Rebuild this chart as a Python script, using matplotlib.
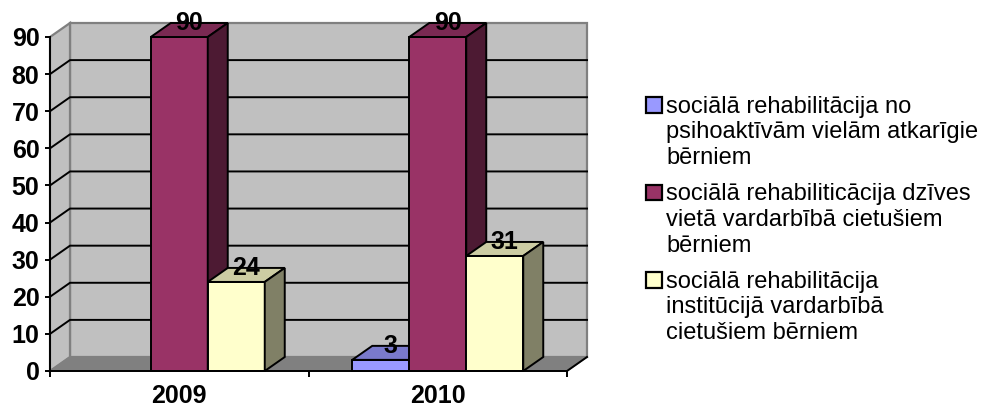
import matplotlib.pyplot as plt
from matplotlib.patches import Polygon, Rectangle
from matplotlib.colors import to_rgb

years = ['2009', '2010']
series_labels = [
    'sociālā rehabilitācija no\npsihoaktīvām vielām atkarīgie\nbērniem',
    'sociālā rehabiliticācija dzīves\nvietā vardarbībā cietušiem\nbērniem',
    'sociālā rehabilitācija\ninstitūcijā vardarbībā\ncietušiem bērniem',
]
substance_rehab = [0, 3]
home_rehab = [90, 90]
institution_rehab = [24, 31]
series_values = [substance_rehab, home_rehab, institution_rehab]
colors = ['#9999FF', '#993366', '#FFFFCC']

plt.rcParams['font.family'] = ['Liberation Sans', 'DejaVu Sans']

W, H = 986, 409
fig = plt.figure(figsize=(W / 100, H / 100), dpi=100)
ax = fig.add_axes([50 / W, 38 / H, 517 / W, 334 / H])
ax.set_xlim(-0.5, 1.5)
ax.set_ylim(0, 90)
ax.patch.set_visible(False)

# depth of the fake 3d, in data units
dx = 20 / 258.5
dy = 14 / 334 * 90
bw = 57 / 258.5
lw = 1.4


def shade(c, f):
    r, g, b = to_rgb(c)
    return (r * f, g * f, b * f)


# walls and floor
x0, x1, top = -0.5, 1.5, 90
wall = dict(fc='#C0C0C0', ec='#808080', lw=1.6, clip_on=False, zorder=0.5)
ax.add_patch(Polygon([(x0 + dx, dy), (x1 + dx, dy), (x1 + dx, top + dy), (x0 + dx, top + dy)], **wall))
ax.add_patch(Polygon([(x0, 0), (x0 + dx, dy), (x0 + dx, top + dy), (x0, top)], **wall))
ax.add_patch(Polygon([(x0, 0), (x1, 0), (x1 + dx, dy), (x0 + dx, dy)],
                     fc='#808080', ec='#808080', lw=1.0, clip_on=False, zorder=0.6))
ax.plot([x1, x1 + dx], [0, dy], color='black', lw=lw, clip_on=False, zorder=2)

for v in range(10, 90, 10):
    ax.plot([x0, x0 + dx, x1 + dx], [v, v + dy, v + dy], color='black', lw=lw,
            clip_on=False, zorder=1)

# bars
for i, (vals, col) in enumerate(zip(series_values, colors)):
    z = 3 + i
    for k, v in enumerate(vals):
        if v == 0:
            continue
        xc = k + (i - 1) * bw
        a, b = xc - bw / 2, xc + bw / 2
        ax.bar(xc, v, bw, color=col, edgecolor='black', linewidth=lw, zorder=z, clip_on=False)
        ax.add_patch(Polygon([(a, v), (a + dx, v + dy), (b + dx, v + dy), (b, v)],
                             fc=shade(col, 0.8), ec='black', lw=lw, clip_on=False, zorder=z))
        ax.add_patch(Polygon([(b, 0), (b + dx, dy), (b + dx, v + dy), (b, v)],
                             fc=shade(col, 0.5), ec='black', lw=lw, clip_on=False, zorder=z))
        ax.text(xc + dx / 2, v + dy, str(v), ha='center', va='center', fontsize=18,
                fontweight='bold', zorder=10)

# axes
for s in ['top', 'right']:
    ax.spines[s].set_visible(False)
for s in ['left', 'bottom']:
    ax.spines[s].set_linewidth(lw)
    ax.spines[s].set_zorder(8)

ax.set_yticks(range(0, 91, 10))
ax.tick_params(axis='y', length=3.6, width=lw, pad=4, labelsize=18)
ax.set_xticks([0, 1], years)
ax.set_xticks([-0.5, 0.5, 1.5], minor=True)
ax.tick_params(axis='x', which='major', length=0, pad=9.5, labelsize=18)
ax.tick_params(axis='x', which='minor', length=4, width=lw)
for lbl in ax.get_yticklabels() + ax.get_xticklabels():
    lbl.set_fontweight('bold')

# legend (first-line baselines in pixels; text is anchored on its last line)
baselines = [112, 199.5, 287]
line_gap = 26
for lab, col, bl in zip(series_labels, colors, baselines):
    fig.patches.append(Rectangle((646 / W, 1 - (bl + 1) / H), 16 / W, 16 / H,
                                 transform=fig.transFigure, fc=col, ec='black', lw=1.6))
    last = bl + line_gap * lab.count('\n')
    fig.text(666 / W, 1 - last / H, lab, ha='left', va='baseline', fontsize=17,
             linespacing=1.22)

fig.savefig('out.png', dpi=100)
